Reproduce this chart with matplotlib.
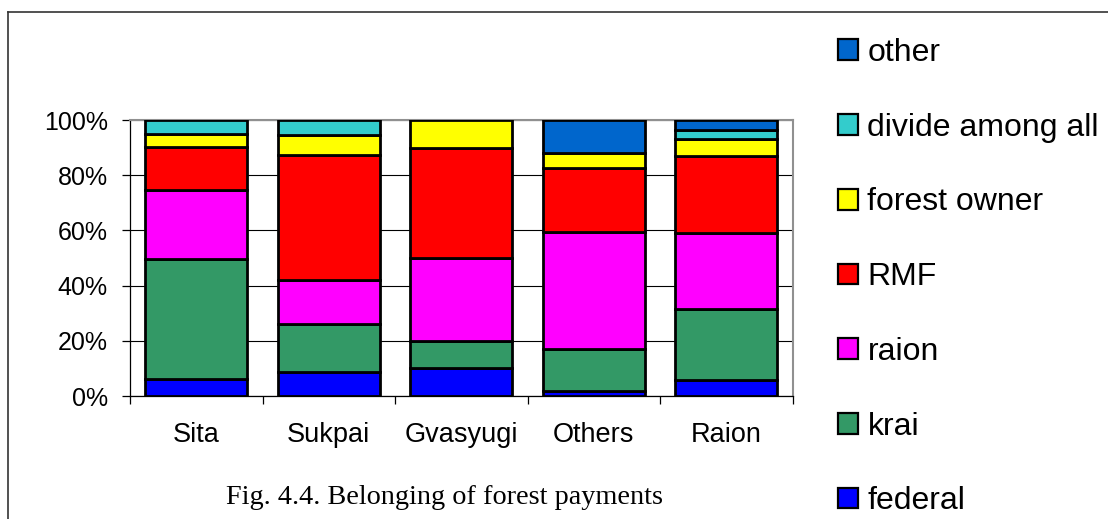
import numpy as np
import matplotlib
matplotlib.use("Agg")
import matplotlib.pyplot as plt
from matplotlib.lines import Line2D
from matplotlib.patches import Patch

# ------------------- data (percent shares) ------------------- #
categories = ["Sita", "Sukpai", "Gvasyugi", "Others", "Raion"]
series_names = ["federal", "krai", "raion", "RMF", "forest owner",
                "divide among all", "other"]
federal  = [6.3, 8.7, 10.0, 1.7, 5.9]
krai     = [43.5, 17.5, 10.0, 15.5, 25.5]
raion    = [24.8, 15.8, 30.0, 42.3, 27.5]
rmf      = [15.7, 45.3, 40.0, 23.0, 28.2]
owner    = [4.7, 7.1, 10.0, 5.6, 6.0]
divide   = [5.0, 5.6, 0.0, 0.0, 3.3]
other    = [0.0, 0.0, 0.0, 11.9, 3.6]
y_ticks  = [0, 20, 40, 60, 80, 100]
y_labels = ["0%", "20%", "40%", "60%", "80%", "100%"]
caption  = "Fig. 4.4. Belonging of forest payments"

# ------------------- style ------------------- #
COLORS = ["#0000FF", "#339966", "#FF00FF", "#FF0000", "#FFFF00",
          "#33CCCC", "#0066CC"]
BAR_WIDTH = 0.77
SANS = "Liberation Sans"

fig = plt.figure(figsize=(11.08, 5.19), dpi=100)
ax = fig.add_axes([130/1108, 1-396/519, (792.7-130)/1108, (396-120)/519])

series = [federal, krai, raion, rmf, owner, divide, other]
x = np.arange(len(categories))
bottom = np.zeros(len(categories))
for vals, col, name in zip(series, COLORS, series_names):
    vals = np.array(vals)
    mask = vals > 0
    ax.bar(x[mask], vals[mask], BAR_WIDTH, bottom=bottom[mask],
           color=col, edgecolor="black", linewidth=2.0, zorder=3)
    bottom += vals

ax.set_xlim(-0.5, len(categories)-0.5)
ax.set_ylim(0, 100)
ax.set_yticks(y_ticks)
ax.set_yticklabels(y_labels, fontsize=18, family=SANS)
ax.set_xticks(x)
ax.set_xticklabels(categories, fontsize=19.5, family=SANS)
ax.set_xticks(np.arange(len(categories)+1)-0.5, minor=True)
ax.tick_params(axis="x", which="major", length=0, pad=19)
ax.tick_params(axis="x", which="minor", length=6, width=0.9, direction="out")
ax.tick_params(axis="y", length=6, width=0.9, pad=10)
ax.yaxis.grid(True, color="black", linewidth=0.8, zorder=0)
ax.set_axisbelow(True)
for s in ("top", "right"):
    ax.spines[s].set_color("#909090")
    ax.spines[s].set_linewidth(1.5)
for s in ("left", "bottom"):
    ax.spines[s].set_color("black")
    ax.spines[s].set_linewidth(0.9)

# legend, top entry = "other"
handles = [Patch(facecolor=c, edgecolor="black", linewidth=1.6)
           for c in COLORS][::-1]
leg = fig.legend(handles, series_names[::-1], loc="upper left",
                 bbox_to_anchor=(838/1108, 1-38/519), frameon=False,
                 prop={"family": SANS, "size": 23},
                 handlelength=0.62, handleheight=0.62, handletextpad=0.3,
                 labelspacing=1.40, borderaxespad=0, borderpad=0)

fig.text(445/1108, 1-498/519, caption, ha="center", va="center",
         fontsize=20.3, family="Liberation Serif")

# outer frame (top and left edges)
fig.add_artist(Line2D([8/1108, 1], [1-12/519, 1-12/519],
                      color="#333333", linewidth=1.2, transform=fig.transFigure))
fig.add_artist(Line2D([8/1108, 8/1108], [0, 1-12/519],
                      color="#333333", linewidth=1.2, transform=fig.transFigure))

fig.savefig("out.png", dpi=100)
